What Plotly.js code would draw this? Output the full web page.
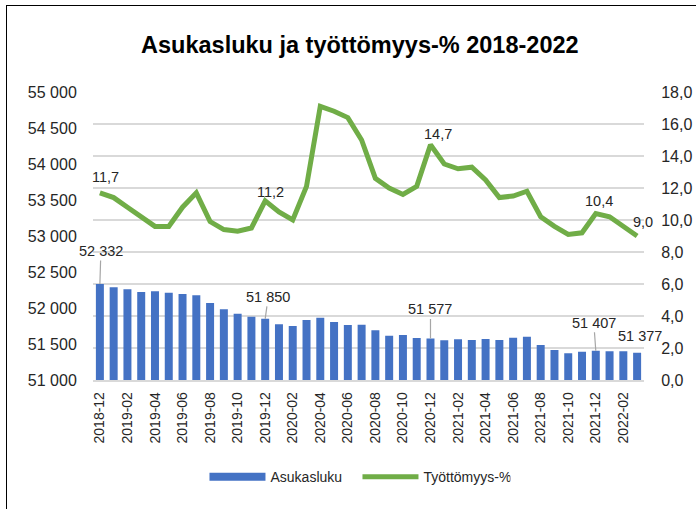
<!DOCTYPE html>
<html>
<head>
<meta charset="utf-8">
<script src="https://cdn.plot.ly/plotly-3.0.1.min.js"></script>
<style>
  html, body { margin: 0; padding: 0; background: #fff; overflow: hidden; }
  #frame { position: absolute; left: 6px; top: 5px; width: 800px; height: 600px; border: 1.5px solid #000; box-sizing: border-box; pointer-events: none; z-index: 5; }
  #chart { position: absolute; left: 0; top: 0; width: 696px; height: 509px; }
</style>
</head>
<body>
<div id="chart"></div>
<div id="frame"></div>
<script>
const months = [
  "2018-12",
  "2019-01","2019-02","2019-03","2019-04","2019-05","2019-06","2019-07","2019-08","2019-09","2019-10","2019-11","2019-12",
  "2020-01","2020-02","2020-03","2020-04","2020-05","2020-06","2020-07","2020-08","2020-09","2020-10","2020-11","2020-12",
  "2021-01","2021-02","2021-03","2021-04","2021-05","2021-06","2021-07","2021-08","2021-09","2021-10","2021-11","2021-12",
  "2022-01","2022-02","2022-03"
];
const asukasluku = [
  52332,
  52287,52259,52222,52231,52213,52194,52176,52069,51981,51921,51880,51850,
  51773,51750,51833,51866,51806,51764,51768,51690,51616,51625,51583,51577,
  51551,51565,51556,51569,51556,51588,51602,51486,51417,51372,51394,51407,
  51400,51398,51377
];
const tyottomyys = [
  11.7,
  11.4,10.8,10.2,9.6,9.6,10.8,11.7,9.9,9.4,9.3,9.5,11.2,
  10.5,10.0,12.1,17.1,16.8,16.4,15.0,12.6,12.0,11.6,12.1,14.7,
  13.5,13.2,13.3,12.5,11.4,11.5,11.8,10.2,9.6,9.1,9.2,10.4,
  10.2,9.6,9.0
];
const tickLabels = months.filter((m, i) => i % 2 === 0);

// labelled points: [index, x pixel shift, y pixel offset]
const barLabels = [[0, 1, -33], [12, 3, -22], [24, 0, -29], [36, -2, -28]];
const lineLabels = [[0, 6, 16], [12, 5, 9], [24, 8, 11], [36, 3, 13]];

const txtColor = "#262626";
const font = "Liberation Sans, Arial, sans-serif";

function fmtPop(v) {
  return String(v).replace(/\B(?=(\d{3})+(?!\d))/g, " ");
}
function fmtPct(v) { return v.toFixed(1).replace(".", ","); }

const annotations = [];
barLabels.forEach(([i, dx, dy]) => {
  annotations.push({
    x: months[i], y: asukasluku[i], xref: "x", yref: "y",
    text: fmtPop(asukasluku[i]), showarrow: true, arrowhead: 0, arrowwidth: 1.2,
    arrowcolor: "#a6a6a6", ax: dx, ay: dy, standoff: 0,
    font: { family: font, size: 14.5, color: txtColor }
  });
});
{
  const i = asukasluku.length - 1;
  annotations.push({
    x: months[i], y: asukasluku[i], xref: "x", yref: "y",
    text: fmtPop(asukasluku[i]), showarrow: false, xshift: 3, yshift: 17,
    font: { family: font, size: 14.5, color: txtColor }
  });
}
lineLabels.forEach(([i, dx, dy]) => {
  annotations.push({
    x: months[i], y: tyottomyys[i], xref: "x", yref: "y2",
    text: fmtPct(tyottomyys[i]), showarrow: false, xshift: dx, yshift: dy,
    font: { family: font, size: 14.5, color: txtColor }
  });
});
{
  const i = tyottomyys.length - 1;
  annotations.push({
    x: months[i], y: tyottomyys[i], xref: "x", yref: "y2",
    text: fmtPct(tyottomyys[i]), showarrow: false, xshift: 6, yshift: 14,
    font: { family: font, size: 14.5, color: txtColor }
  });
}

const data = [
  {
    type: "bar", name: "Asukasluku", x: months, y: asukasluku,
    marker: { color: "#4472C4" }, yaxis: "y", showlegend: false, legendrank: 1
  },
  // legend entry for the bars, drawn as a wide blue band like the reference
  {
    type: "scatter", mode: "lines", name: "Asukasluku", x: [months[0]], y: [null],
    line: { color: "#4472C4", width: 8 }, yaxis: "y", legendrank: 1
  },
  {
    type: "scatter", mode: "lines", name: "Työttömyys-%", x: months, y: tyottomyys,
    line: { color: "#70AD47", width: 5, shape: "linear" }, yaxis: "y2", legendrank: 2
  }
];

const layout = {
  width: 696, height: 509,
  margin: { l: 93, r: 52, t: 92, b: 129 },
  paper_bgcolor: "#ffffff", plot_bgcolor: "#ffffff",
  separators: ", ",
  font: { family: font, color: txtColor },
  title: {
    text: "<b>Asukasluku ja työttömyys-% 2018-2022</b>",
    x: 0.517, xanchor: "center", y: 0.912, yanchor: "middle",
    font: { family: font, size: 23.5, color: "#000" }
  },
  bargap: 0.42,
  xaxis: {
    type: "category", tickmode: "array", tickvals: tickLabels, ticktext: tickLabels,
    tickangle: -90, tickfont: { family: font, size: 14, color: txtColor },
    showgrid: false, showline: true, linecolor: "#d9d9d9", linewidth: 1.5,
    ticks: "outside", ticklen: 5, tickcolor: "rgba(0,0,0,0)",
    range: [-0.5, months.length - 0.5]
  },
  yaxis: {
    range: [51000, 55000], tickmode: "linear", tick0: 51000, dtick: 500,
    tickformat: ",d", showgrid: false, zeroline: false,
    tickfont: { family: font, size: 16, color: txtColor },
    ticks: "outside", ticklen: 12, tickcolor: "rgba(0,0,0,0)"
  },
  yaxis2: {
    overlaying: "y", side: "right", range: [0, 18], tickmode: "linear", tick0: 0, dtick: 2,
    tickformat: ".1f", showgrid: true, gridcolor: "#d9d9d9", gridwidth: 1.5,
    zeroline: false,
    tickfont: { family: font, size: 16, color: txtColor },
    ticks: "outside", ticklen: 13, tickcolor: "rgba(0,0,0,0)"
  },
  showlegend: true,
  legend: {
    orientation: "h", x: 0.480, xanchor: "center", y: -0.337, yanchor: "middle",
    font: { family: font, size: 14, color: txtColor },
    itemwidth: 56, entrywidth: 82, tracegroupgap: 0, traceorder: "normal"
  },
  annotations: annotations
};

Plotly.newPlot("chart", data, layout, { displayModeBar: false, staticPlot: true });
</script>
</body>
</html>
